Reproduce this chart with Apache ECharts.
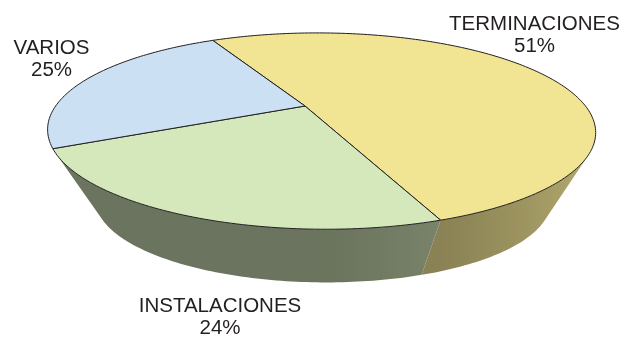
<!DOCTYPE html>
<html>
<head>
<meta charset="utf-8">
<script src="https://cdn.jsdelivr.net/npm/echarts@6/dist/echarts.min.js"></script>
<style>
  html, body { margin: 0; padding: 0; background: #ffffff; }
  #chart { width: 627px; height: 337px; }
</style>
</head>
<body>
<div id="chart"></div>
<script>
// Shares of the work items
const categories = ['TERMINACIONES', 'INSTALACIONES', 'VARIOS'];
const values = [51, 24, 25];
const topColors = ['#F1E493', '#D5E8BB', '#CBE0F2'];

// Projection of the tilted disc (angles in degrees, clockwise from the far side)
const CX = 305, CY = 106, RX = 264, RY = 91.6, PY = 0.255, PX = 0.0587;
const VX = 329, VY = 542, K = 0.83;   // vanishing point and scale of the bottom rim
const START = 334;                    // angle where the first slice begins
const labelAnchors = [[534.5, 35.5], [220, 317.5], [51.5, 59.5]];

const total = values.reduce((s, v) => s + v, 0);

function rim(t) {
  const a = t * Math.PI / 180;
  const X = Math.sin(a), Y = -Math.cos(a);
  const w = 1 - PY * Y - PX * X;
  return [CX + RX * X / w, CY + RY * Y / w];
}
function base(t) {
  const p = rim(t);
  return [VX + K * (p[0] - VX), VY + K * (p[1] - VY)];
}

// Silhouette: where the rim tangent points at the vanishing point
function silhouette(from, to) {
  const g = t => {
    const p0 = rim(t - 0.05), p1 = rim(t + 0.05), p = rim(t);
    const dx = p1[0] - p0[0], dy = p1[1] - p0[1];
    return dx * (VY - p[1]) - dy * (VX - p[0]);
  };
  let prev = g(from);
  for (let t = from + 0.1; t <= to; t += 0.1) {
    const cur = g(t);
    if ((cur > 0) !== (prev > 0)) return t;
    prev = cur;
  }
  return to;
}
const T_RIGHT = silhouette(60, 180);
const T_LEFT = silhouette(180, 300);

function sliceRange(i) {
  let cum = 0;
  for (let k = 0; k < i; k++) cum += values[k];
  const a = START + 360 * cum / total;
  return [a, a + 360 * values[i] / total];
}

function shadeFactor(t) {
  const c = Math.max(0, Math.cos((t - 90) * Math.PI / 180));
  let f = 0.5 + 0.3 * Math.pow(c, 1.5);
  const s = Math.min(1, Math.max(0, (t - 242) / 8));
  f += 0.1 * s;
  return f;
}
function shade(hex, f) {
  const n = parseInt(hex.slice(1), 16);
  const r = Math.round(((n >> 16) & 255) * f);
  const g = Math.round(((n >> 8) & 255) * f);
  const b = Math.round((n & 255) * f);
  return 'rgb(' + r + ',' + g + ',' + b + ')';
}

function wallItem(params, api) {
  const i = params.dataIndex;
  const [a, b] = sliceRange(i);
  const children = [];
  for (const k of [-720, -360, 0, 360]) {
    const lo = Math.max(a + k, T_RIGHT), hi = Math.min(b + k, T_LEFT);
    if (hi <= lo) continue;
    const n = Math.max(2, Math.ceil(hi - lo));
    const pts = [];
    for (let j = 0; j <= n; j++) pts.push(rim(lo + (hi - lo) * j / n));
    for (let j = n; j >= 0; j--) pts.push(base(lo + (hi - lo) * j / n));
    let x0 = Infinity, x1 = -Infinity;
    pts.forEach(p => { x0 = Math.min(x0, p[0]); x1 = Math.max(x1, p[0]); });
    const stops = [];
    for (let j = n; j >= 0; j--) {
      const t = lo + (hi - lo) * j / n;
      const off = (rim(t)[0] - x0) / (x1 - x0);
      stops.push({ offset: Math.min(1, Math.max(0, off)), color: shade(topColors[i], shadeFactor(t)) });
    }
    stops.sort((p, q) => p.offset - q.offset);
    children.push({
      type: 'polygon',
      shape: { points: pts },
      style: {
        fill: { type: 'linear', x: x0, y: 0, x2: x1, y2: 0, global: true, colorStops: stops }
      }
    });
  }
  return { type: 'group', children: children };
}

function topItem(params, api) {
  const i = params.dataIndex;
  const v = api.value(0);
  const [a, b] = sliceRange(i);
  const n = Math.ceil(b - a);
  const pts = [[CX, CY]];
  for (let j = 0; j <= n; j++) pts.push(rim(a + (b - a) * j / n));
  const pct = Math.round(v / total * 100) + '%';
  return {
    type: 'group',
    children: [
      {
        type: 'polygon',
        shape: { points: pts },
        style: { fill: topColors[i], stroke: '#231F20', lineWidth: 1, lineJoin: 'round' }
      },
      {
        type: 'text',
        x: labelAnchors[i][0],
        y: labelAnchors[i][1],
        style: {
          text: categories[i] + '\n' + pct,
          fill: '#231F20',
          fontSize: 20.5,
          fontFamily: '"Liberation Sans", Arial, sans-serif',
          align: 'center',
          verticalAlign: 'middle',
          lineHeight: 22
        }
      }
    ]
  };
}

const chart = echarts.init(document.getElementById('chart'), null, { renderer: 'canvas' });
chart.setOption({
  backgroundColor: '#ffffff',
  animation: false,
  series: [
    { type: 'custom', coordinateSystem: 'none', data: values, z: 1, silent: true, renderItem: wallItem },
    { type: 'custom', coordinateSystem: 'none', data: values, z: 2, renderItem: topItem }
  ]
});
</script>
</body>
</html>
